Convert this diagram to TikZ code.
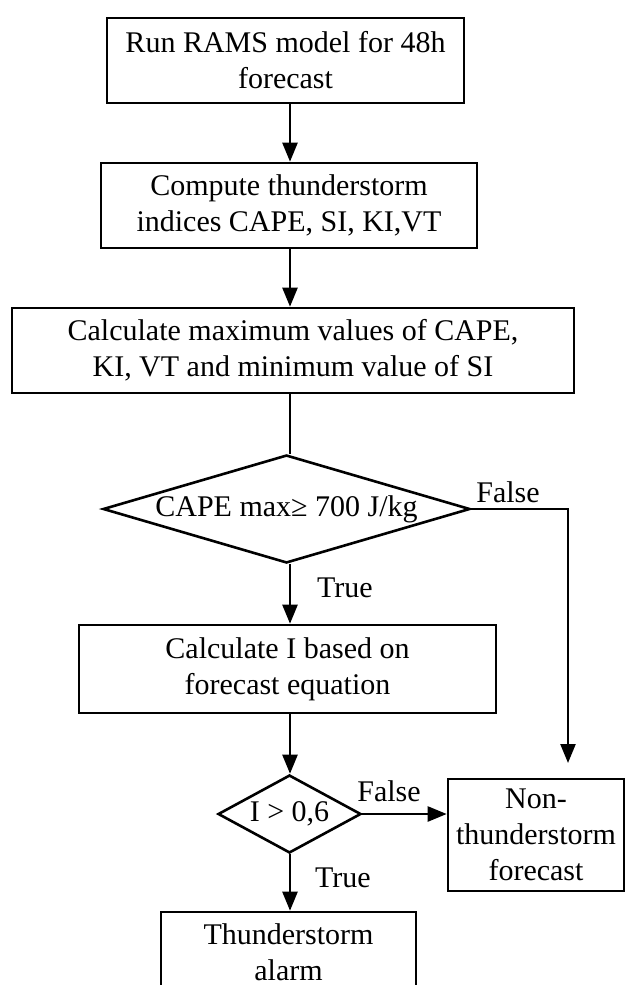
\documentclass[tikz,border=0pt]{standalone}
\usepackage{fontspec}
\setmainfont{Liberation Serif}
\usetikzlibrary{arrows.meta,shapes.geometric}
\begin{document}
\begin{tikzpicture}[x=1pt,y=-1pt,
  every node/.style={font=\fontsize{30}{36}\selectfont, align=center},
  box/.style={draw, line width=2.6pt, inner sep=0pt},
  dec/.style={draw, shape=diamond, line width=2.6pt, inner sep=0pt},
  lbl/.style={inner sep=0pt},
  arr/.style={line width=2.4pt, -{Triangle[length=19pt,width=15pt]}},
  ln/.style={line width=2.4pt}]
\useasboundingbox (0,0) rectangle (625,985);
\clip (0,0) rectangle (625,985);
\fill[white] (0,0) rectangle (625,985);

\node[box, minimum width=357pt, minimum height=85pt] (b1) at (285.5,60.5) {Run RAMS model for 48h\\forecast};
\node[box, minimum width=376pt, minimum height=85pt] (b2) at (289,205.5) {Compute thunderstorm\\indices CAPE, SI, KI,VT};
\node[box, minimum width=562pt, minimum height=85pt] (b3) at (293,350.5) {Calculate maximum values of CAPE,\\KI, VT and minimum value of SI};
\node[dec, aspect=3.4, minimum width=367pt, minimum height=108pt] (d1) at (286.5,509) {CAPE max≥ 700 J/kg};
\node[box, minimum width=417pt, minimum height=88pt] (b4) at (287.5,669) {Calculate I based on\\forecast equation};
\node[dec, aspect=1.83, minimum width=143pt, minimum height=78pt] (d2) at (289.5,814) {I > 0,6};
\node[box, minimum width=176pt, minimum height=112pt] (b5) at (536,835) {Non-\\thunderstorm\\forecast};
\node[box, minimum width=255pt, minimum height=80pt] (b6) at (288.5,952) {Thunderstorm\\alarm};

\node[lbl] (f1) at (508,492) {False};
\node[lbl] (t1) at (345,588) {True};
\node[lbl] (f2) at (389,791) {False};
\node[lbl] (t2) at (343,878) {True};

\coordinate (ax) at (290,0);
\coordinate (corner) at (568,509);
\coordinate (tip) at (568,763);

\draw[arr] (b1.south -| ax) -- (b2.north -| ax);
\draw[arr] (b2.south -| ax) -- (b3.north -| ax);
\draw[ln] (b3.south -| ax) -- (d1.north -| ax);
\draw[arr] (d1.south -| ax) -- (b4.north -| ax);
\draw[arr] (b4.south -| ax) -- (d2.north -| ax);
\draw[arr] (d2.south -| ax) -- (b6.north -| ax);
\draw[arr] (d2.east) -- (d2.east -| b5.west);
\draw[arr] (d1.east) -- (corner) -- (tip);
\end{tikzpicture}
\end{document}
